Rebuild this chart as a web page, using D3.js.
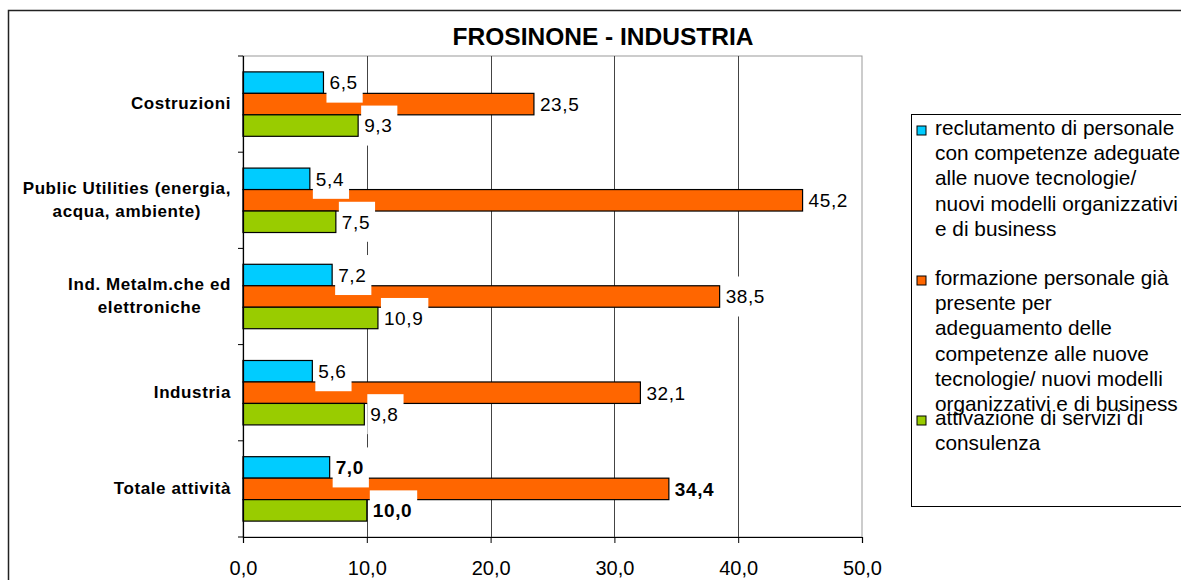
<!DOCTYPE html>
<html>
<head>
<meta charset="utf-8">
<script src="https://cdn.jsdelivr.net/npm/d3@7"></script>
<style>
  body { margin: 0; background: #fff; }
  text { font-family: "Liberation Sans", Arial, sans-serif; fill: #000; }
</style>
</head>
<body>
<svg id="chart" width="1181" height="580"></svg>
<script>
const categories = [
  "Costruzioni",
  "Public Utilities (energia,\nacqua, ambiente)",
  "Ind. Metalm.che ed\nelettroniche",
  "Industria",
  "Totale attività"
];
const reclutamento = [6.5, 5.4, 7.2, 5.6, 7.0];
const formazione = [23.5, 45.2, 38.5, 32.1, 34.4];
const consulenza = [9.3, 7.5, 10.9, 9.8, 10.0];
const seriesColors = ["#00CCFF", "#FF6600", "#99CC00"];
const legendLines = [
  ["reclutamento di personale", "con competenze adeguate", "alle nuove tecnologie/", "nuovi modelli organizzativi", "e di business"],
  ["formazione personale già", "presente per", "adeguamento delle", "competenze alle nuove", "tecnologie/ nuovi modelli", "organizzativi e di business"],
  ["attivazione di servizi di", "consulenza"]
];
const xTicks = [0, 10, 20, 30, 40, 50];
const title = "FROSINONE - INDUSTRIA";
const boldCategory = "Totale attività";

(function () {
  const svg = d3.select("#chart");
  const left = 243, right = 862, top = 56, bottom = 537;
  const series = [reclutamento, formazione, consulenza];
  const fmt = (v) => d3.format(".1f")(v).replace(".", ",");

  const x = d3.scaleLinear().domain([0, 50]).range([left, right]);
  const y = d3.scaleBand().domain(categories).range([top, bottom]);
  const yInner = d3.scaleBand().domain([0, 1, 2]).range([0, y.bandwidth()])
    .paddingInner(0).paddingOuter(0.74);

  // outer frame
  svg.append("rect").attr("x", 8.5).attr("y", 10.5).attr("width", 1190).attr("height", 600)
    .attr("fill", "none").attr("stroke", "#222").attr("stroke-width", 1.5);

  svg.append("text").attr("x", 603).attr("y", 45).attr("text-anchor", "middle")
    .style("font-size", "24.5px").style("font-weight", "bold").text(title);

  // plot border + grid
  svg.append("rect").attr("x", left).attr("y", top).attr("width", right - left).attr("height", bottom - top)
    .attr("fill", "none").attr("stroke", "#999");
  svg.selectAll(null).data(xTicks.slice(1, -1)).enter().append("line")
    .attr("x1", (d) => Math.round(x(d)) + 0.5).attr("x2", (d) => Math.round(x(d)) + 0.5)
    .attr("y1", top).attr("y2", bottom).attr("stroke", "#444");

  // bars
  const rows = [];
  series.forEach((vals, s) => vals.forEach((v, i) => rows.push({ s, v, cat: categories[i] })));

  svg.append("g").selectAll(null).data(rows).enter().append("rect")
    .attr("x", x(0))
    .attr("y", (d) => y(d.cat) + yInner(d.s))
    .attr("width", (d) => x(d.v) - x(0))
    .attr("height", yInner.bandwidth())
    .attr("fill", (d) => seriesColors[d.s])
    .attr("stroke", "#000").attr("stroke-width", 1.2);

  // value labels with white boxes
  const boxLayer = svg.append("g");
  const textLayer = svg.append("g");
  rows.forEach((d) => {
    const cy = y(d.cat) + yInner(d.s) + yInner.bandwidth() / 2;
    const t = textLayer.append("text")
      .attr("x", x(d.v) + 6).attr("y", cy + 6.8)
      .style("font-size", "19px").style("letter-spacing", "0.6px")
      .style("font-weight", d.cat === boldCategory ? "bold" : "normal")
      .text(fmt(d.v));
    const w = t.node().getComputedTextLength();
    boxLayer.append("rect")
      .attr("x", x(d.v) + 3).attr("y", cy - 20)
      .attr("width", w + 8).attr("height", 40).attr("fill", "#fff");
  });

  // left axis
  svg.append("line").attr("x1", left + 0.5).attr("x2", left + 0.5).attr("y1", top).attr("y2", bottom)
    .attr("stroke", "#000").attr("stroke-width", 1.2);
  const bounds = categories.map((c) => y(c)).concat([bottom]);
  svg.selectAll(null).data(bounds).enter().append("line")
    .attr("x1", left - 5).attr("x2", left).attr("y1", (d) => d).attr("y2", (d) => d)
    .attr("stroke", "#000");

  // category labels
  categories.forEach((c) => {
    const lines = c.split("\n");
    const cy = y(c) + y.bandwidth() / 2;
    const g = svg.append("text").attr("text-anchor", "middle")
      .style("font-size", "17px").style("font-weight", "bold").style("letter-spacing", "0.6px");
    const spans = lines.map((l, i) => g.append("tspan")
      .attr("y", cy + 5 + (i - (lines.length - 1) / 2) * 22.5).text(l));
    const maxW = d3.max(spans, (s) => s.node().getComputedTextLength());
    spans.forEach((s) => s.attr("x", 231 - maxW / 2));
  });

  // bottom axis
  const xAxis = svg.append("g").attr("transform", `translate(0,${bottom})`)
    .call(d3.axisBottom(x).tickValues(xTicks).tickFormat(fmt).tickSize(6).tickPadding(18));
  xAxis.select(".domain").attr("stroke", "#000").attr("stroke-width", 1.2);
  xAxis.selectAll("text").style("font-size", "20px")
    .style("font-family", '"Liberation Sans", Arial, sans-serif');

  // legend
  const legend = svg.append("g");
  legend.append("rect").attr("x", 911.5).attr("y", 114.5).attr("width", 300).attr("height", 392)
    .attr("fill", "#fff").attr("stroke", "#000");
  const entryY = [135, 285, 425];
  legendLines.forEach((lines, s) => {
    legend.append("rect").attr("x", 917).attr("y", entryY[s] - 9).attr("width", 9).attr("height", 9)
      .attr("fill", seriesColors[s]).attr("stroke", "#000");
    lines.forEach((l, i) => legend.append("text")
      .attr("x", 935).attr("y", entryY[s] + i * 25.2)
      .style("font-size", "20.8px").text(l));
  });
})();
</script>
</body>
</html>
